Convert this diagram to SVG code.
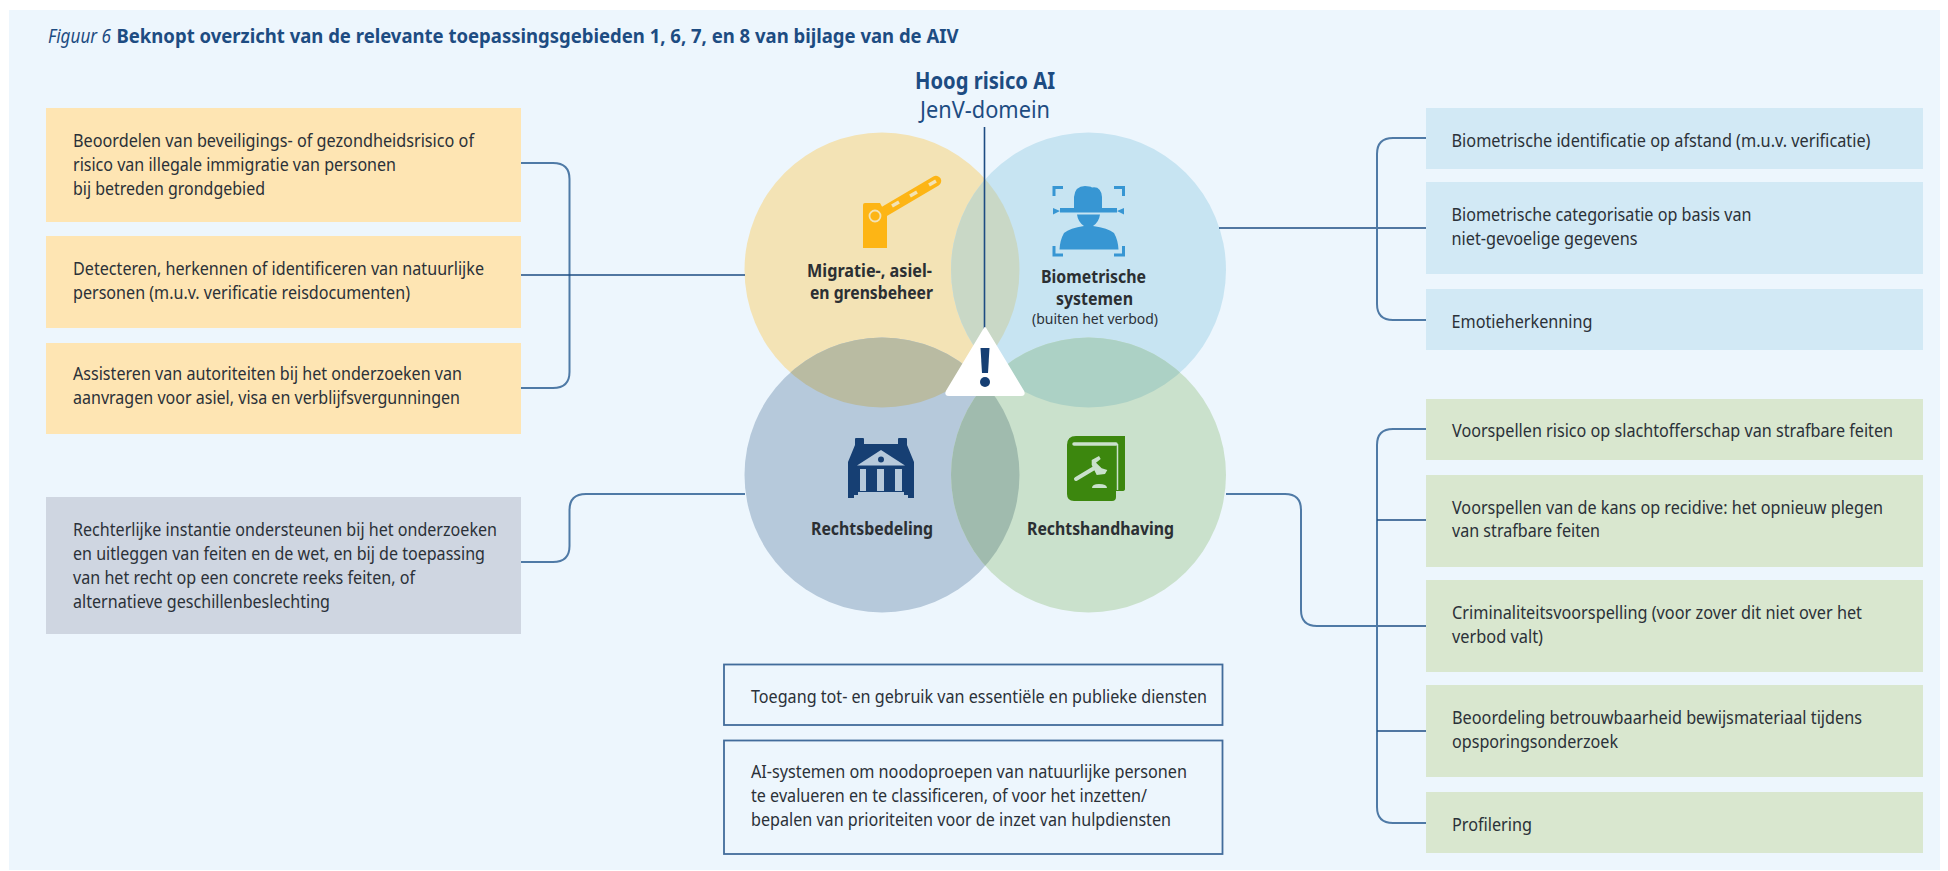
<svg xmlns="http://www.w3.org/2000/svg" width="1948" height="871" viewBox="0 0 1948 871">
<style>
text{font-family:"Noto Sans","Lato","Liberation Sans",sans-serif}
.t{font-size:17.5px;fill:#2b3138}
.n{font-size:18px;font-weight:700;fill:#2b2f33}
.s{font-size:15px;fill:#2b3138}
.h{fill:#1d4c82}
.br{fill:none;stroke:#4f7aa6;stroke-width:2}
.ln{fill:none;stroke:#1d4c82;stroke-width:1.6}
.y{fill:#fee5b3}.b{fill:#d2e9f5}.g{fill:#d9e7cf}.d{fill:#cfd6e1}
.o{fill:#edf6fd;stroke:#426c9b;stroke-width:1.8}
</style>
<defs>
<clipPath id="cMig"><circle cx="882" cy="270" r="137.5"/></clipPath>
<clipPath id="cBio"><circle cx="1088.5" cy="270" r="137.5"/></clipPath>
<clipPath id="cRec"><circle cx="882" cy="475" r="137.5"/></clipPath>
<clipPath id="cHan"><circle cx="1088.5" cy="475" r="137.5"/></clipPath>
</defs>
<rect width="1948" height="871" fill="#ffffff"/>
<rect x="9" y="10" width="1931" height="860" fill="#edf6fd"/>
<g id="title">
<text x="48" y="43" font-size="20" font-style="italic" class="h" textLength="63" lengthAdjust="spacingAndGlyphs">Figuur 6</text>
<text x="116.5" y="43" font-size="20" font-weight="700" class="h" textLength="842" lengthAdjust="spacingAndGlyphs">Beknopt overzicht van de relevante toepassingsgebieden 1, 6, 7, en 8 van bijlage van de AIV</text>
</g>
<g id="venn">
<circle id="c-mig" cx="882" cy="270" r="137.5" fill="#f3e3b5"/>
<circle id="c-bio" cx="1088.5" cy="270" r="137.5" fill="#c7e4f2"/>
<circle id="c-rec" cx="882" cy="475" r="137.5" fill="#b6c9db"/>
<circle id="c-han" cx="1088.5" cy="475" r="137.5" fill="#cae1cc"/>
<circle cx="1088.5" cy="270" r="137.5" fill="#c9d8c6" clip-path="url(#cMig)"/>
<circle cx="882" cy="475" r="137.5" fill="#b9bba2" clip-path="url(#cMig)"/>
<circle cx="1088.5" cy="475" r="137.5" fill="#acd1c5" clip-path="url(#cBio)"/>
<circle cx="1088.5" cy="475" r="137.5" fill="#a0bbae" clip-path="url(#cRec)"/>
</g>
<g id="connectors">
<path class="ln" d="M984.5 127V330"/>
<path class="br" d="M521 163H553Q569.5 163 569.5 179V372Q569.5 388 553 388H521"/>
<path class="ln" d="M521 275H745"/>
<path class="br" d="M521 562H553Q569.5 562 569.5 546V510Q569.500 494 586 494H745"/>
<path class="ln" d="M1219 228H1427"/>
<path class="br" d="M1426 138H1393Q1377 138 1377 154V304Q1377 320 1393 320H1426"/>
<path class="br" d="M1226 494H1285Q1301 494 1301 510V610Q1301 626 1317 626H1377"/>
<path class="ln" d="M1377 626H1427"/>
<path class="br" d="M1426 429H1393Q1377 429 1377 445V807Q1377 823 1393 823H1426"/>
<path class="ln" d="M1377 520H1427M1377 731H1427"/>
</g>
<g id="hoog-risico">
<text x="985" y="89" text-anchor="middle" font-size="23" font-weight="700" class="h" textLength="140" lengthAdjust="spacingAndGlyphs">Hoog risico AI</text>
<text x="985" y="118" text-anchor="middle" font-size="23" class="h" textLength="130" lengthAdjust="spacingAndGlyphs">JenV-domein</text>
</g>
<g id="warning">
<path d="M985 328L1023 391Q1025 395 1021 395H949Q945 395 947 391Z" fill="#fff" stroke="#fff" stroke-width="2" stroke-linejoin="round"/>
<path d="M980.500 348H989.500L988 373H982Z" fill="#163f73"/>
<circle cx="985" cy="382" r="5" fill="#163f73"/>
</g>
<g id="node-migratie">
<path d="M865 203H880L887 216V248H863V205Q863 203 865 203Z" fill="#fdb515"/>
<path d="M880 214L936 181" stroke="#fdb515" stroke-width="10.500" stroke-linecap="round" fill="none"/>
<path d="M892 206L899 202M910 196L917 192M929 185L936 181" stroke="#f3e3b5" stroke-width="3.500" fill="none"/>
<circle cx="875" cy="216" r="5.500" fill="none" stroke="#f3e3b5" stroke-width="1.800"/>
<text class="n" x="869.500" y="277" text-anchor="middle" textLength="125" lengthAdjust="spacingAndGlyphs">Migratie-, asiel-</text>
<text class="n" x="871.500" y="299" text-anchor="middle" textLength="123" lengthAdjust="spacingAndGlyphs">en grensbeheer</text>
</g>
<g id="node-biometrisch">
<path d="M1054 196V187.500H1063M1114 187.500H1123.500V196M1054 246V255H1063M1114 255H1123.500V246" fill="none" stroke="#3796d3" stroke-width="3"/>
<path d="M1053 208L1060 211L1053 214.500ZM1124 208L1117 211L1124 214.500Z" fill="#3796d3"/>
<path d="M1074 208V197Q1075 186 1085 186Q1090 186 1092 187.500Q1101 186 1102 197V208H1117V212.500H1060V208Z" fill="#3796d3"/>
<path d="M1077 214.500H1100Q1099 222 1093 226Q1108 228 1114 233Q1118 240 1118.500 249.500H1059.500Q1060 240 1064 233Q1070 228 1084 226Q1078 222 1077 214.500Z" fill="#3796d3"/>
<text class="n" x="1093.500" y="283" text-anchor="middle" textLength="105" lengthAdjust="spacingAndGlyphs">Biometrische</text>
<text class="n" x="1094.500" y="305" text-anchor="middle" textLength="77" lengthAdjust="spacingAndGlyphs">systemen</text>
<text class="s" x="1095" y="324" text-anchor="middle" textLength="126" lengthAdjust="spacingAndGlyphs">(buiten het verbod)</text>
</g>
<g id="node-rechtsbedeling">
<path d="M855 439Q855 438 856 438H863Q864 438 864 439V444H898V439Q898 438 899 438H906Q907 438 907 439V445L914 462V498H908V495H904V492H858V495H854V498H848V462L855 445Z" fill="#163f73"/>
<path d="M881 450L905 465.500H857Z" fill="#b6c9db"/>
<circle cx="881" cy="459.500" r="3" fill="#163f73"/>
<path d="M860 469H866V491H860ZM877 469H884V491H877ZM895 469H902V491H895Z" fill="#b6c9db"/>
<text class="n" x="872" y="535" text-anchor="middle" textLength="122" lengthAdjust="spacingAndGlyphs">Rechtsbedeling</text>
</g>
<g id="node-rechtshandhaving">
<path d="M1076 436H1125V489Q1125 491 1122 491H1116V497Q1116 501 1112 501H1074Q1067 501 1067 494V445Q1067 436 1076 436Z" fill="#3c870e"/>
<path d="M1074 444H1116" fill="none" stroke="#cae1cc" stroke-width="3.500" stroke-linecap="round"/>
<path d="M1117.500 444V490" fill="none" stroke="#cae1cc" stroke-width="1.500"/>
<path d="M1076 479L1096 467" stroke="#cae1cc" stroke-width="4" stroke-linecap="round" fill="none"/>
<path d="M1091.700 460L1099 456L1100.700 459L1096 462.700L1101.700 468.300L1107.300 470L1105 474L1096.700 475L1091.700 465Z" fill="#cae1cc"/>
<path d="M1092 488Q1092 484 1099 484Q1107 484 1107 488Z" fill="#cae1cc"/>
<text class="n" x="1100.500" y="535" text-anchor="middle" textLength="147" lengthAdjust="spacingAndGlyphs">Rechtshandhaving</text>
</g>
<g id="box-l1"><rect class="y" x="46" y="108" width="475" height="114"/>
<text class="t" x="73" y="147" textLength="401" lengthAdjust="spacingAndGlyphs">Beoordelen van beveiligings- of gezondheidsrisico of</text>
<text class="t" x="73" y="171" textLength="323" lengthAdjust="spacingAndGlyphs">risico van illegale immigratie van personen</text>
<text class="t" x="73" y="195" textLength="192" lengthAdjust="spacingAndGlyphs">bij betreden grondgebied</text></g>
<g id="box-l2"><rect class="y" x="46" y="236" width="475" height="92"/>
<text class="t" x="73" y="275" textLength="411" lengthAdjust="spacingAndGlyphs">Detecteren, herkennen of identificeren van natuurlijke</text>
<text class="t" x="73" y="299" textLength="337" lengthAdjust="spacingAndGlyphs">personen (m.u.v. verificatie reisdocumenten)</text></g>
<g id="box-l3"><rect class="y" x="46" y="343" width="475" height="91"/>
<text class="t" x="73" y="380" textLength="389" lengthAdjust="spacingAndGlyphs">Assisteren van autoriteiten bij het onderzoeken van</text>
<text class="t" x="73" y="404" textLength="387" lengthAdjust="spacingAndGlyphs">aanvragen voor asiel, visa en verblijfsvergunningen</text></g>
<g id="box-l4"><rect class="d" x="46" y="497" width="475" height="137"/>
<text class="t" x="73" y="536" textLength="424" lengthAdjust="spacingAndGlyphs">Rechterlijke instantie ondersteunen bij het onderzoeken</text>
<text class="t" x="73" y="560" textLength="412" lengthAdjust="spacingAndGlyphs">en uitleggen van feiten en de wet, en bij de toepassing</text>
<text class="t" x="73" y="584" textLength="342" lengthAdjust="spacingAndGlyphs">van het recht op een concrete reeks feiten, of</text>
<text class="t" x="73" y="608" textLength="257" lengthAdjust="spacingAndGlyphs">alternatieve geschillenbeslechting</text></g>
<g id="box-c1"><rect class="o" x="724" y="664.500" width="498.500" height="60.500"/>
<text class="t" x="751" y="703" textLength="456" lengthAdjust="spacingAndGlyphs">Toegang tot- en gebruik van essentiële en publieke diensten</text></g>
<g id="box-c2"><rect class="o" x="724" y="740.500" width="498.500" height="113.500"/>
<text class="t" x="751" y="778" textLength="436" lengthAdjust="spacingAndGlyphs">AI-systemen om noodoproepen van natuurlijke personen</text>
<text class="t" x="751" y="802" textLength="396" lengthAdjust="spacingAndGlyphs">te evalueren en te classificeren, of voor het inzetten/</text>
<text class="t" x="751" y="826" textLength="420" lengthAdjust="spacingAndGlyphs">bepalen van prioriteiten voor de inzet van hulpdiensten</text></g>
<g id="box-r1"><rect class="b" x="1426" y="108" width="497" height="61"/>
<text class="t" x="1451.500" y="147" textLength="419" lengthAdjust="spacingAndGlyphs">Biometrische identificatie op afstand (m.u.v. verificatie)</text></g>
<g id="box-r2"><rect class="b" x="1426" y="182" width="497" height="92"/>
<text class="t" x="1451.500" y="221" textLength="300" lengthAdjust="spacingAndGlyphs">Biometrische categorisatie op basis van</text>
<text class="t" x="1451.500" y="245" textLength="186" lengthAdjust="spacingAndGlyphs">niet-gevoelige gegevens</text></g>
<g id="box-r3"><rect class="b" x="1426" y="289" width="497" height="61"/>
<text class="t" x="1451.500" y="328" textLength="141" lengthAdjust="spacingAndGlyphs">Emotieherkenning</text></g>
<g id="box-r4"><rect class="g" x="1426" y="399" width="497" height="61"/>
<text class="t" x="1452" y="437" textLength="441" lengthAdjust="spacingAndGlyphs">Voorspellen risico op slachtofferschap van strafbare feiten</text></g>
<g id="box-r5"><rect class="g" x="1426" y="475" width="497" height="92"/>
<text class="t" x="1452" y="514" textLength="431" lengthAdjust="spacingAndGlyphs">Voorspellen van de kans op recidive: het opnieuw plegen</text>
<text class="t" x="1452" y="537" textLength="148" lengthAdjust="spacingAndGlyphs">van strafbare feiten</text></g>
<g id="box-r6"><rect class="g" x="1426" y="580" width="497" height="92"/>
<text class="t" x="1452" y="619" textLength="410" lengthAdjust="spacingAndGlyphs">Criminaliteitsvoorspelling (voor zover dit niet over het</text>
<text class="t" x="1452" y="643" textLength="91" lengthAdjust="spacingAndGlyphs">verbod valt)</text></g>
<g id="box-r7"><rect class="g" x="1426" y="685" width="497" height="92"/>
<text class="t" x="1452" y="724" textLength="410" lengthAdjust="spacingAndGlyphs">Beoordeling betrouwbaarheid bewijsmateriaal tijdens</text>
<text class="t" x="1452" y="748" textLength="166" lengthAdjust="spacingAndGlyphs">opsporingsonderzoek</text></g>
<g id="box-r8"><rect class="g" x="1426" y="792" width="497" height="61"/>
<text class="t" x="1452" y="831" textLength="80" lengthAdjust="spacingAndGlyphs">Profilering</text></g>
</svg>
